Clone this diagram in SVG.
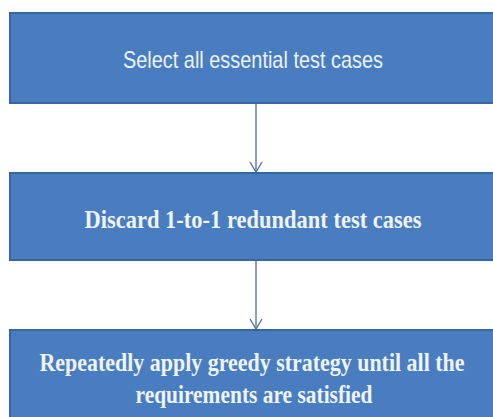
<svg xmlns="http://www.w3.org/2000/svg" width="493" height="417" viewBox="0 0 493 417">
  <defs>
    <style>
      .box { fill: #4a7dbf; stroke: #3a66a0; stroke-width: 2; }
      .sans { font-family: "Liberation Sans Narrow", "Liberation Sans", "DejaVu Sans Condensed", sans-serif; fill: #eaf2fb; }
      .serif { font-family: "Liberation Serif", "DejaVu Serif", serif; font-weight: bold; fill: #eef4fb; }
      .conn { stroke: #4f6e99; stroke-width: 1.3; fill: none; }
    </style>
    <marker id="vee" markerWidth="14" markerHeight="14" refX="11" refY="7" orient="auto" markerUnits="userSpaceOnUse">
      <path d="M1,1 L11,7 L1,13" fill="none" stroke="#4f6e99" stroke-width="1.3"/>
    </marker>
  </defs>
  <rect width="493" height="417" fill="#ffffff"/>
  <g id="connectors">
    <line class="conn" x1="256" y1="104" x2="256" y2="172" marker-end="url(#vee)"/>
    <line class="conn" x1="256" y1="261" x2="256" y2="329" marker-end="url(#vee)"/>
  </g>
  <g id="node1">
    <rect class="box" x="10" y="13" width="490" height="90"/>
    <text class="sans" x="253" y="68" font-size="24" text-anchor="middle" textLength="260" lengthAdjust="spacingAndGlyphs">Select all essential test cases</text>
  </g>
  <g id="node2">
    <rect class="box" x="10" y="173" width="490" height="87"/>
    <text class="serif" x="253" y="228" font-size="25" text-anchor="middle" textLength="337" lengthAdjust="spacingAndGlyphs">Discard  1-to-1 redundant test cases</text>
  </g>
  <g id="node3">
    <rect class="box" x="10" y="330" width="490" height="95"/>
    <text class="serif" x="252" y="371" font-size="25" text-anchor="middle" textLength="425" lengthAdjust="spacingAndGlyphs">Repeatedly apply greedy strategy until all the</text>
    <text class="serif" x="254" y="403" font-size="25" text-anchor="middle" textLength="237" lengthAdjust="spacingAndGlyphs">requirements are satisfied</text>
  </g>
</svg>
